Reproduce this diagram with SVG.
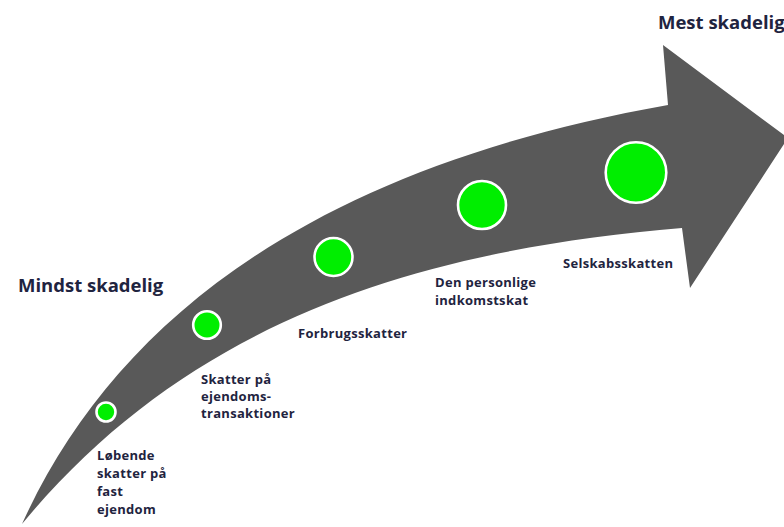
<svg xmlns="http://www.w3.org/2000/svg" width="784" height="527" viewBox="0 0 784 527">
<style>
.lbl{font-family:"Open Sans","Liberation Sans",sans-serif;font-weight:700;fill:#1f2440;font-size:13px;letter-spacing:0.3px}
.big{font-size:18.5px;letter-spacing:0}
.dot{fill:#00ee00;stroke:#ffffff;stroke-width:2.6}
</style>
<rect width="784" height="527" fill="#ffffff"/>
<g id="arrow">
<path d="M22,524 C110,330 300,170 668,105 L663,45 L788,138 L690,288 L682,228 C420,250 190,320 22,524 Z" fill="#595959"/>
</g>
<g id="connectors"></g>
<g id="n1"><circle class="dot" cx="106" cy="412" r="9.5"/>
<text class="lbl"><tspan x="97" y="460">Løbende</tspan><tspan x="97" y="478">skatter på</tspan><tspan x="97" y="496">fast</tspan><tspan x="97" y="514">ejendom</tspan></text></g>
<g id="n2"><circle class="dot" cx="207" cy="325" r="13.8"/>
<text class="lbl"><tspan x="201" y="384">Skatter på</tspan><tspan x="201" y="401">ejendoms-</tspan><tspan x="201" y="418">transaktioner</tspan></text></g>
<g id="n3"><circle class="dot" cx="333.5" cy="257" r="19"/>
<text class="lbl" x="298" y="338">Forbrugsskatter</text></g>
<g id="n4"><circle class="dot" cx="482" cy="205" r="24"/>
<text class="lbl"><tspan x="435" y="287">Den personlige</tspan><tspan x="435" y="305">indkomstskat</tspan></text></g>
<g id="n5"><circle class="dot" cx="636" cy="172.5" r="30.3"/>
<text class="lbl" x="563" y="268">Selskabsskatten</text></g>
<g id="ends">
<text class="lbl big" x="18" y="292">Mindst skadelig</text>
<text class="lbl big" x="658" y="29">Mest skadelig</text>
</g>
</svg>
